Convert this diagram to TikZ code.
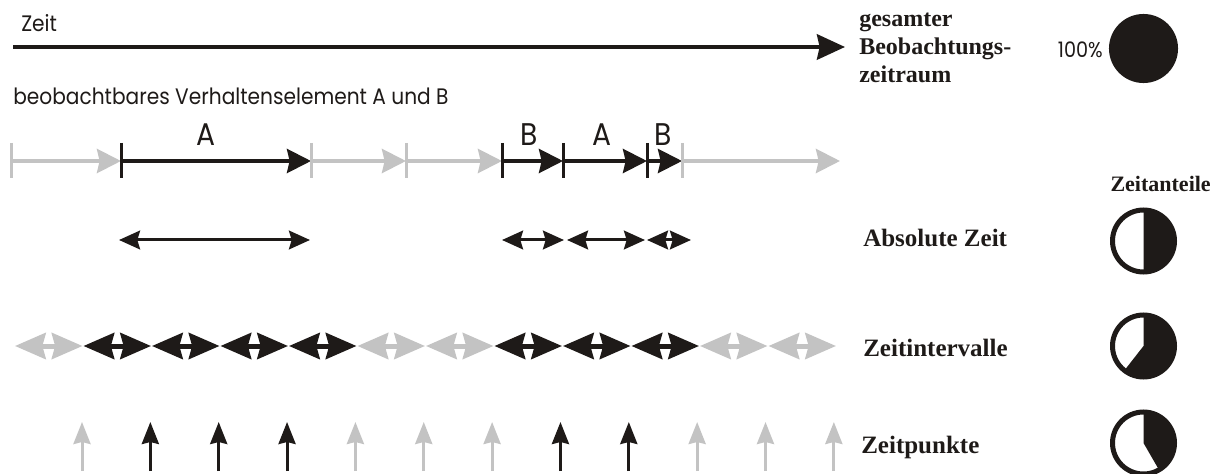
\documentclass[tikz,border=0pt]{standalone}
\usepackage{fontspec}
\setmainfont{Liberation Serif}
\newfontfamily\labelsans[FakeStretch=0.9]{Poppins}
\usetikzlibrary{arrows.meta}
\definecolor{ink}{RGB}{30,26,24}
\definecolor{mute}{RGB}{195,195,195}

\begin{document}
\begin{tikzpicture}[x=0.75pt,y=-0.75pt,
  seg/.style={-{Stealth[length=18pt,width=18pt,inset=2pt]}, line width=3pt},
  tickmark/.style={line width=2.25pt},
  span/.style={{Stealth[length=15.75pt,width=14pt,inset=2pt]}-{Stealth[length=15.75pt,width=14pt,inset=2pt]}, line width=2.25pt, ink},
  ivl/.style={{Stealth[length=23pt,width=19.5pt,inset=2.5pt]}-{Stealth[length=23pt,width=19.5pt,inset=2.5pt]}, line width=3.75pt},
  pnt/.style={-{Stealth[length=16.5pt,width=12.75pt,inset=1.5pt]}, line width=2.25pt},
  sanslabel/.style={font=\labelsans\fontsize{16.8pt}{19pt}\selectfont, anchor=base west, inner sep=0pt, text=ink},
  letter/.style={font=\labelsans\fontsize{23.5pt}{26pt}\selectfont, anchor=base, inner sep=0pt, text=ink},
  rowlabel/.style={font=\bfseries\fontsize{18.75pt}{22pt}\selectfont, anchor=base west, inner sep=0pt, text=ink},
  ring/.style={line width=3.75pt, draw=ink}
]
\useasboundingbox (0,0) rectangle (1214,474);

% overall time axis
\node[sanslabel] (zeit) at (21,32) {Zeit};
\coordinate (axisstart) at (13,47);
\coordinate (axisend) at (845,47);
\draw[ink, line width=3pt, -{Stealth[length=21pt,width=19pt,inset=2pt]}] (axisstart) -- (axisend);

\node[font=\bfseries\fontsize{18pt}{21pt}\selectfont, anchor=base west, inner sep=0pt, text=ink] (ges1) at (859,27) {gesamter};
\node[font=\bfseries\fontsize{18pt}{21pt}\selectfont, anchor=base west, inner sep=0pt, text=ink] (ges2) at (859,55) {Beobachtungs-};
\node[font=\bfseries\fontsize{18pt}{21pt}\selectfont, anchor=base west, inner sep=0pt, text=ink] (ges3) at (859,83) {zeitraum};

\node[font=\labelsans\fontsize{16pt}{18pt}\selectfont, anchor=east, inner sep=0pt, text=ink] (hundert) at (1103,50) {100\%};
\fill[ink] (1143.5,48.5) circle[radius=25.9pt];

% observed behaviour sequence
\node[sanslabel] (beob) at (13,105) {beobachtbares Verhaltenselement A und B};

\coordinate (t0) at (11,161);
\coordinate (t1) at (121,161);
\coordinate (t2) at (311,161);
\coordinate (t3) at (406,161);
\coordinate (t4) at (502,161);
\coordinate (t5) at (563,161);
\coordinate (t6) at (647,161);
\coordinate (t7) at (682,161);
\coordinate (t8) at (840,161);

\draw[seg, mute] (t0) -- (t1);
\draw[seg, mute] (t2) -- (t3);
\draw[seg, mute] (t3) -- (t4);
\draw[seg, mute] (t7) -- (t8);
\draw[seg, ink] (t1) -- (t2);
\draw[seg, ink] (t4) -- (t5);
\draw[seg, ink] (t5) -- (t6);
\draw[seg, ink] (t6) -- (t7);

\foreach \t/\c in {t0/mute,t2/mute,t3/mute,t7/mute,t1/ink,t4/ink,t5/ink,t6/ink}
  \draw[tickmark, \c] ([yshift=13.5pt]\t) -- ([yshift=-12.75pt]\t);

\node[letter] (la1) at (206,146) {A};
\node[letter] (lb1) at (529,146) {B};
\node[letter] (la2) at (602,146) {A};
\node[letter] (lb2) at (663,146) {B};

% absolute durations
\coordinate (s1a) at (119,240);
\coordinate (s1b) at (310,240);
\coordinate (s2a) at (502,240);
\coordinate (s2b) at (564,240);
\coordinate (s3a) at (567,240);
\coordinate (s3b) at (645,240);
\coordinate (s4a) at (647,240);
\coordinate (s4b) at (691,240);
\draw[span] (s1a) -- (s1b);
\draw[span] (s2a) -- (s2b);
\draw[span] (s3a) -- (s3b);
\draw[span] (s4a) -- (s4b);
\node[rowlabel] (abs) at (863,247) {Absolute Zeit};

% interval sampling
\foreach \i/\c in {0/mute,1/ink,2/ink,3/ink,4/ink,5/mute,6/mute,7/ink,8/ink,9/ink,10/mute,11/mute} {
  \coordinate (il\i) at ({15+68.5*\i},346);
  \coordinate (ir\i) at ({15+68.5*\i+67.5},346);
  \draw[ivl, \c] (il\i) -- (ir\i);
}
\node[rowlabel] (intv) at (863,356) {Zeitintervalle};

% point sampling
\foreach \i/\c in {0/mute,1/ink,2/ink,3/ink,4/mute,5/mute,6/mute,7/ink,8/ink,9/mute,10/mute,11/mute} {
  \coordinate (pb\i) at ({82+68.35*\i},471);
  \coordinate (pt\i) at ({82+68.35*\i},422);
  \draw[pnt, \c] (pb\i) -- (pt\i);
}
\node[rowlabel] (pkt) at (861,453) {Zeitpunkte};

% share of observation time
\node[font=\bfseries\fontsize{16.5pt}{20pt}\selectfont, anchor=base east, inner sep=0pt, text=ink] (anteile) at (1211,192) {Zeitanteile};

\begin{scope}[shift={(1143.5,241)}, x=0.75pt, y=0.75pt]
  \fill[ink] (0,0) -- (90:31) arc[start angle=90, end angle=-90, radius=31] -- cycle;
  \draw[ring] (0,0) circle[radius=31];
\end{scope}
\begin{scope}[shift={(1143.5,346)}, x=0.75pt, y=0.75pt]
  \fill[ink] (0,0) -- (90:31) arc[start angle=90, end angle=-128, radius=31] -- cycle;
  \draw[ring] (0,0) circle[radius=31];
\end{scope}
\begin{scope}[shift={(1143.5,443)}, x=0.75pt, y=0.75pt]
  \fill[ink] (0,0) -- (90:31) arc[start angle=90, end angle=-60, radius=31] -- cycle;
  \draw[ring] (0,0) circle[radius=31];
\end{scope}
\end{tikzpicture}
\end{document}
